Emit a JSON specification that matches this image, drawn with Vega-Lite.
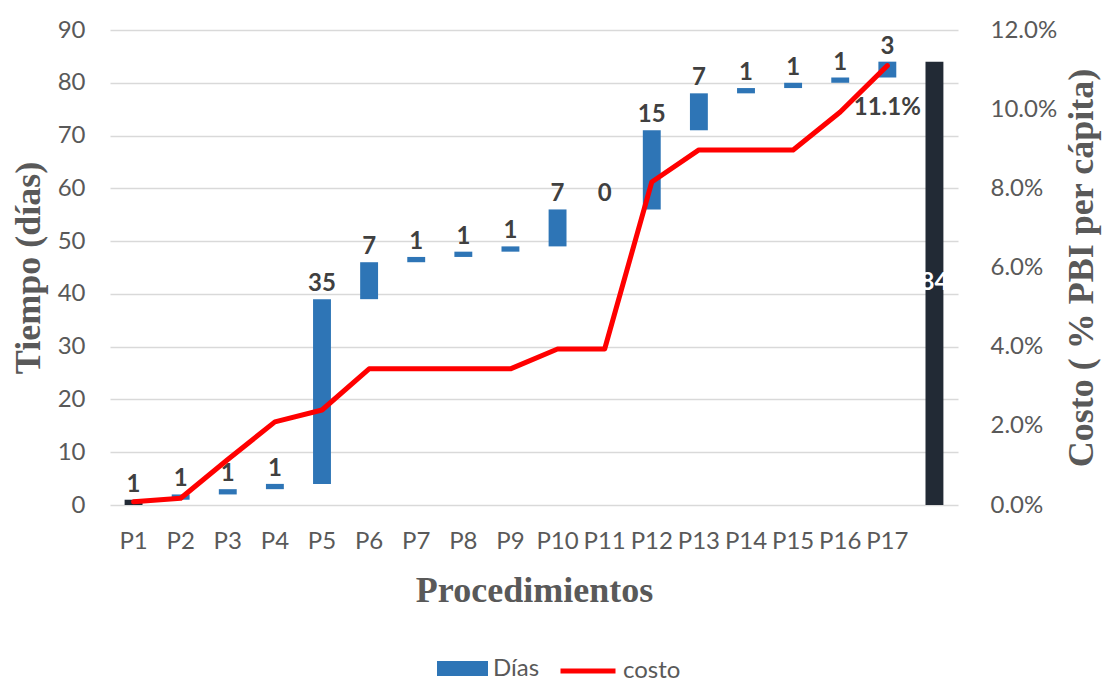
{
  "$schema": "https://vega.github.io/schema/vega-lite/v6.json",
  "width": 848,
  "height": 475,
  "autosize": "none",
  "padding": {"left": 110, "top": 30, "right": 153, "bottom": 174},
  "background": "white",
  "config": {
    "view": {"stroke": null},
    "font": "Lato",
    "axis": {
      "labelFont": "Lato",
      "labelFontSize": 24,
      "labelColor": "#595959",
      "titleFont": "Liberation Serif",
      "titleFontSize": 36,
      "titleFontWeight": "bold",
      "titleColor": "#595959",
      "ticks": false,
      "domain": false
    },
    "legend": {
      "labelFont": "Lato",
      "labelFontSize": 24,
      "labelColor": "#595959",
      "padding": 0,
      "labelOffset": 5,
      "labelLimit": 200
    }
  },
  "data": {
    "values": [
      {"proc": "P1", "start": 0, "end": 1, "dias": 1, "tipo": "total", "costo": 0.0008},
      {"proc": "P2", "start": 1, "end": 2, "dias": 1, "tipo": "inc", "costo": 0.0017},
      {"proc": "P3", "start": 2, "end": 3, "dias": 1, "tipo": "inc", "costo": 0.0115},
      {"proc": "P4", "start": 3, "end": 4, "dias": 1, "tipo": "inc", "costo": 0.021},
      {"proc": "P5", "start": 4, "end": 39, "dias": 35, "tipo": "inc", "costo": 0.024},
      {"proc": "P6", "start": 39, "end": 46, "dias": 7, "tipo": "inc", "costo": 0.0344},
      {"proc": "P7", "start": 46, "end": 47, "dias": 1, "tipo": "inc", "costo": 0.0344},
      {"proc": "P8", "start": 47, "end": 48, "dias": 1, "tipo": "inc", "costo": 0.0344},
      {"proc": "P9", "start": 48, "end": 49, "dias": 1, "tipo": "inc", "costo": 0.0344},
      {"proc": "P10", "start": 49, "end": 56, "dias": 7, "tipo": "inc", "costo": 0.0394},
      {"proc": "P11", "start": 56, "end": 56, "dias": 0, "tipo": "inc", "costo": 0.0394},
      {"proc": "P12", "start": 56, "end": 71, "dias": 15, "tipo": "inc", "costo": 0.0816},
      {"proc": "P13", "start": 71, "end": 78, "dias": 7, "tipo": "inc", "costo": 0.0897},
      {"proc": "P14", "start": 78, "end": 79, "dias": 1, "tipo": "inc", "costo": 0.0897},
      {"proc": "P15", "start": 79, "end": 80, "dias": 1, "tipo": "inc", "costo": 0.0897},
      {"proc": "P16", "start": 80, "end": 81, "dias": 1, "tipo": "inc", "costo": 0.0993},
      {"proc": "P17", "start": 81, "end": 84, "dias": 3, "tipo": "inc", "costo": 0.111},
      {"proc": "Total", "start": 0, "end": 84, "dias": 84, "tipo": "total", "costo": null}
    ]
  },
  "encoding": {
    "x": {
      "field": "proc",
      "type": "nominal",
      "scale": {
        "domain": ["P1","P2","P3","P4","P5","P6","P7","P8","P9","P10","P11","P12","P13","P14","P15","P16","P17","Total"],
        "paddingInner": 0.62,
        "paddingOuter": 0.31
      },
      "axis": {
        "title": "Procedimientos",
        "labelAngle": 0,
        "labelPadding": 24,
        "labelOverlap": false,
        "labelBound": false,
        "labelExpr": "datum.value == 'Total' ? '' : datum.value",
        "titlePadding": 20,
        "grid": false
      }
    }
  },
  "layer": [
    {
      "encoding": {
        "y": {
          "field": "start",
          "type": "quantitative",
          "scale": {"domain": [0, 90], "nice": false},
          "axis": {
            "title": "Tiempo (días)",
            "values": [0,10,20,30,40,50,60,70,80,90],
            "grid": true,
            "gridColor": "#D9D9D9",
            "gridWidth": 1.3,
            "labelPadding": 25,
            "titlePadding": 10
          }
        }
      },
      "layer": [
        {
          "transform": [{"filter": "datum.tipo == 'inc'"}],
          "mark": {"type": "bar"},
          "encoding": {
            "y2": {"field": "end"},
            "color": {
              "datum": "Días",
              "scale": {"range": ["#2E75B6"]},
              "legend": {
                "title": null,
                "orient": "none",
                "legendX": 327,
                "legendY": 613,
                "symbolType": "M-1,-0.29H1V0.29H-1Z",
                "symbolSize": 2601,
                "symbolStrokeWidth": 0
              }
            }
          }
        },
        {
          "transform": [{"filter": "datum.tipo == 'total'"}],
          "mark": {"type": "bar", "color": "#222A35"},
          "encoding": {"y2": {"field": "end"}}
        },
        {
          "transform": [{"filter": "datum.proc != 'Total'"}],
          "mark": {"type": "text", "baseline": "bottom", "dy": -3, "fontWeight": "bold", "fontSize": 24, "color": "#404040", "font": "Lato"},
          "encoding": {
            "y": {"field": "end", "type": "quantitative"},
            "text": {"field": "dias", "type": "quantitative"}
          }
        },
        {
          "transform": [
            {"filter": "datum.proc == 'Total'"},
            {"calculate": "(datum.start + datum.end) / 2", "as": "mid"}
          ],
          "mark": {"type": "text", "baseline": "middle", "fontWeight": "bold", "fontSize": 24, "color": "white", "font": "Lato"},
          "encoding": {
            "y": {"field": "mid", "type": "quantitative"},
            "text": {"field": "dias", "type": "quantitative"}
          }
        }
      ]
    },
    {
      "transform": [{"filter": "datum.costo != null"}],
      "encoding": {
        "y": {
          "field": "costo",
          "type": "quantitative",
          "scale": {"domain": [0, 0.12], "nice": false},
          "axis": {
            "orient": "right",
            "title": "Costo ( % PBI per cápita)",
            "format": ".1%",
            "values": [0, 0.02, 0.04, 0.06, 0.08, 0.1, 0.12],
            "grid": false,
            "labelPadding": 32,
            "titleAngle": 270,
            "titleBaseline": "top",
            "titlePadding": 8
          }
        }
      },
      "layer": [
        {
          "mark": {"type": "line", "strokeWidth": 5, "strokeJoin": "round", "strokeCap": "round"},
          "encoding": {
            "stroke": {
              "datum": "costo",
              "scale": {"range": ["#FF0000"]},
              "legend": {
                "title": null,
                "orient": "none",
                "legendX": 448,
                "legendY": 611,
                "symbolType": "stroke",
                "symbolSize": 3025,
                "symbolStrokeWidth": 5
              }
            }
          }
        },
        {
          "transform": [{"filter": "datum.proc == 'P17'"}],
          "mark": {"type": "text", "baseline": "middle", "dy": 42, "fontWeight": "bold", "fontSize": 24, "color": "#404040", "font": "Lato"},
          "encoding": {
            "text": {"field": "costo", "type": "quantitative", "format": ".1%"}
          }
        }
      ]
    }
  ],
  "resolve": {"scale": {"y": "independent", "color": "independent", "stroke": "independent"}}
}
